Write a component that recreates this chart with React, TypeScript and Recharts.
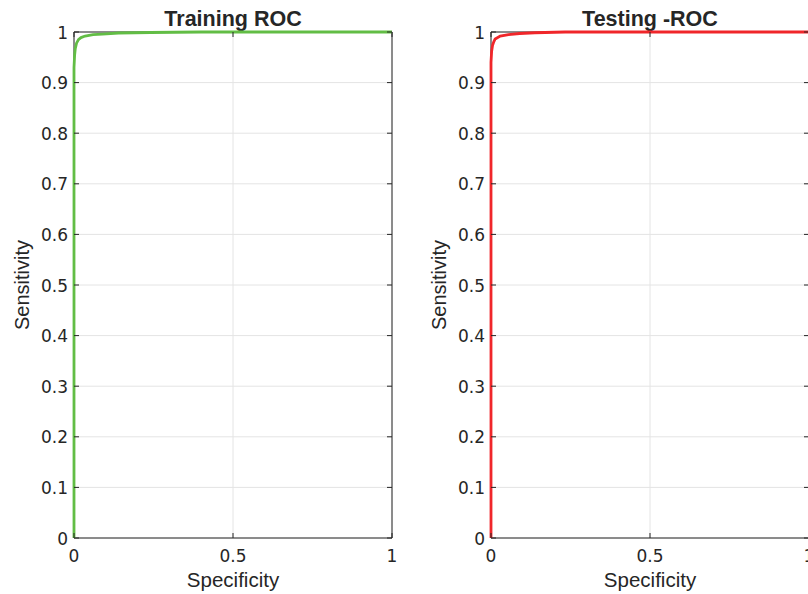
import { LineChart, Line, XAxis, YAxis, CartesianGrid } from "recharts";

// ROC curves (x = specificity axis, y = sensitivity)
const trainX = [0, 0, 0.002, 0.004, 0.008, 0.014, 0.022, 0.035, 0.06, 0.09, 0.14, 0.24, 0.4, 1];
const trainY = [0, 0.93, 0.955, 0.967, 0.978, 0.985, 0.989, 0.992, 0.995, 0.996, 0.998, 0.999, 1, 1];

const testX = [0, 0, 0.002, 0.005, 0.009, 0.013, 0.029, 0.055, 0.09, 0.138, 0.233, 0.4, 1];
const testY = [0, 0.94, 0.962, 0.974, 0.981, 0.986, 0.992, 0.995, 0.997, 0.9985, 1, 1, 1];

const xTicks = [0, 0.5, 1];
const yTicks = [0, 0.1, 0.2, 0.3, 0.4, 0.5, 0.6, 0.7, 0.8, 0.9, 1];

const ink = "#262626";
const tickFont = "'DejaVu Sans', sans-serif";
const labelFont = "'Liberation Sans', Arial, sans-serif";

const zip = (xs: number[], ys: number[]) => xs.map((x, i) => ({ x, y: ys[i] }));

const LeftTick = ({ x, y, payload }: any) => (
  <g>
    <line x1={x} x2={x + 5} y1={y} y2={y} stroke={ink} />
    <text x={x - 6} y={y + 6.5} textAnchor="end" fontFamily={tickFont} fontSize={17} fill={ink}>
      {String(payload.value)}
    </text>
  </g>
);

const RightTick = ({ x, y }: any) => <line x1={x} x2={x - 5} y1={y} y2={y} stroke={ink} />;

const BottomTick = ({ x, y, payload }: any) => (
  <g>
    <line x1={x} x2={x} y1={y} y2={y - 5} stroke={ink} />
    <text x={x} y={y + 24} textAnchor="middle" fontFamily={tickFont} fontSize={17} fill={ink}>
      {String(payload.value)}
    </text>
  </g>
);

const TopTick = ({ x, y }: any) => <line x1={x} x2={x} y1={y} y2={y + 5} stroke={ink} />;

const XLabel = ({ viewBox }: any) => (
  <text
    x={viewBox.x + viewBox.width / 2}
    y={viewBox.y + 49}
    textAnchor="middle"
    fontFamily={labelFont}
    fontSize={20.5}
    fill={ink}
  >
    Specificity
  </text>
);

const YLabel = ({ viewBox }: any) => {
  const cx = 29;
  const cy = viewBox.y + viewBox.height / 2;
  return (
    <text
      x={cx}
      y={cy}
      transform={`rotate(-90 ${cx} ${cy})`}
      textAnchor="middle"
      fontFamily={labelFont}
      fontSize={20}
      fill={ink}
    >
      Sensitivity
    </text>
  );
};

const Title = ({ viewBox, text }: any) => (
  <text
    x={viewBox.x + viewBox.width / 2}
    y={26}
    textAnchor="middle"
    fontFamily={labelFont}
    fontWeight="bold"
    fontSize={21.5}
    fill={ink}
  >
    {text}
  </text>
);

function RocPanel({ title, data, color }: { title: string; data: { x: number; y: number }[]; color: string }) {
  return (
    <LineChart width={420} height={594} data={data} margin={{ top: 31, right: 27, bottom: 0, left: 0 }}>
      <CartesianGrid stroke="#e4e4e4" strokeWidth={1} />
      <XAxis
        dataKey="x"
        type="number"
        domain={[0, 1]}
        ticks={xTicks}
        height={56}
        tickSize={0}
        tickMargin={0}
        tick={<BottomTick />}
        axisLine={{ stroke: ink }}
        label={<XLabel />}
      />
      <XAxis
        xAxisId="top"
        dataKey="x"
        orientation="top"
        type="number"
        domain={[0, 1]}
        ticks={xTicks}
        height={1}
        tickSize={0}
        tickMargin={0}
        tick={<TopTick />}
        axisLine={{ stroke: ink }}
        label={<Title text={title} />}
      />
      <YAxis
        type="number"
        domain={[0, 1]}
        ticks={yTicks}
        width={74}
        tickSize={0}
        tickMargin={0}
        tick={<LeftTick />}
        axisLine={{ stroke: ink }}
        label={<YLabel />}
      />
      <YAxis
        yAxisId="right"
        orientation="right"
        type="number"
        domain={[0, 1]}
        ticks={yTicks}
        width={1}
        tickSize={0}
        tickMargin={0}
        tick={<RightTick />}
        axisLine={{ stroke: ink }}
      />
      {/* invisible twin so the box axes (top / right) get drawn */}
      <Line
        xAxisId="top"
        yAxisId="right"
        type="linear"
        dataKey="y"
        stroke="none"
        dot={false}
        activeDot={false}
        isAnimationActive={false}
      />
      <Line
        type="linear"
        dataKey="y"
        stroke={color}
        strokeWidth={2.8}
        dot={false}
        activeDot={false}
        zIndex={700}
        isAnimationActive={false}
      />
    </LineChart>
  );
}

export default function App() {
  return (
    <div
      style={{
        position: "fixed",
        left: 0,
        top: 0,
        width: 808,
        height: 594,
        overflow: "hidden",
        background: "#fff",
      }}
    >
      <div style={{ position: "absolute", left: 0, top: 0 }}>
        <RocPanel title="Training ROC" data={zip(trainX, trainY)} color="#62bd45" />
      </div>
      <div style={{ position: "absolute", left: 417, top: 0 }}>
        <RocPanel title="Testing -ROC" data={zip(testX, testY)} color="#f0262a" />
      </div>
    </div>
  );
}
